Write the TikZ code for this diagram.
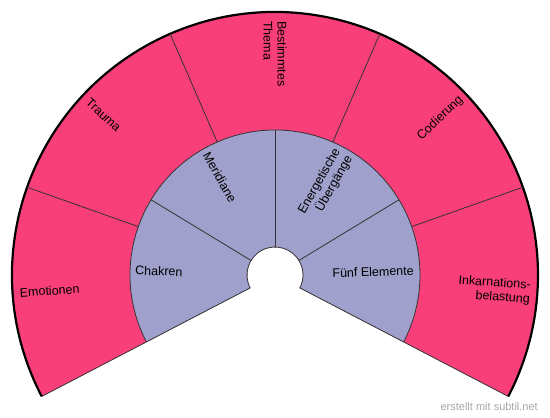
\documentclass[tikz,border=0pt]{standalone}
\usepackage{fontspec}
\setmainfont{Liberation Sans}
\definecolor{rosa}{HTML}{F93F7A}
\definecolor{lila}{HTML}{A0A0CC}
\definecolor{rand}{HTML}{333333}
\definecolor{hinweis}{HTML}{A8A8A8}
\begin{document}
\begin{tikzpicture}[x=1pt, y=1pt,
  border/.style={draw=rand, line width=0.8pt},
  label/.style={font=\fontsize{12.5}{14}\selectfont, inner sep=0pt}]
  \useasboundingbox[fill=white] (-275,-143) rectangle (275,275);

  % Outer ring
  \fill[rosa] (207.5:28pt) -- (207.5:263pt) arc[start angle=207.5, end angle=-27.5, radius=263pt]
    -- (-27.5:28pt) arc[start angle=-27.5, end angle=207.5, radius=28pt] -- cycle;

  % Inner ring
  \fill[lila] (207.5:28pt) -- (207.5:145pt) arc[start angle=207.5, end angle=-27.5, radius=145pt]
    -- (-27.5:28pt) arc[start angle=-27.5, end angle=207.5, radius=28pt] -- cycle;

  % Edges
  \draw[border] (207.5:263pt) -- (207.5:28pt) arc[start angle=207.5, end angle=-27.5, radius=28pt]
    -- (-27.5:263pt);
  \draw[border] (207.5:145pt) arc[start angle=207.5, end angle=-27.5, radius=145pt];
  \draw[line width=2.2pt] (207.5:263pt) arc[start angle=207.5, end angle=-27.5, radius=263pt];

  % Dividers
  \foreach \a in {148.75, 90, 31.25}
    \draw[border] (\a:28pt) -- (\a:145pt);
  \foreach \a in {160.5, 113.5, 66.5, 19.5}
    \draw[border] (\a:145pt) -- (\a:263pt);

  % Outer labels
  \node[label, anchor=west, rotate=4] (emotionen) at (184:256pt) {Emotionen};
  \node[label, anchor=west, rotate=-43] (trauma) at (137:256pt) {Trauma};
  \node[label, anchor=west, rotate=-90, align=left] (thema) at (90:254pt) {Bestimmtes\\Thema};
  \node[label, anchor=east, rotate=43.5] (codierung) at (43.5:257pt) {Codierung};
  \node[label, anchor=east, rotate=-4, align=right] (inkarnation) at (-4:256pt) {Inkarnations-\\belastung};

  % Inner labels
  \node[label, anchor=west, rotate=-1.9] (chakren) at (178.1:140pt) {Chakren};
  \node[label, anchor=west, rotate=-60.6] (meridiane) at (119.4:140pt) {Meridiane};
  \node[label, anchor=east, rotate=60.6, align=right] (uebergaenge) at (60.6:140pt) {Energetische\\Übergänge};
  \node[label, anchor=east, rotate=1.9] (elemente) at (1.9:139pt) {Fünf Elemente};

  % Credit
  \node[font=\fontsize{11}{12}\selectfont, text=hinweis, anchor=east, inner sep=0pt] (credit) at (263,-132) {erstellt mit subtil.net};
\end{tikzpicture}
\end{document}
